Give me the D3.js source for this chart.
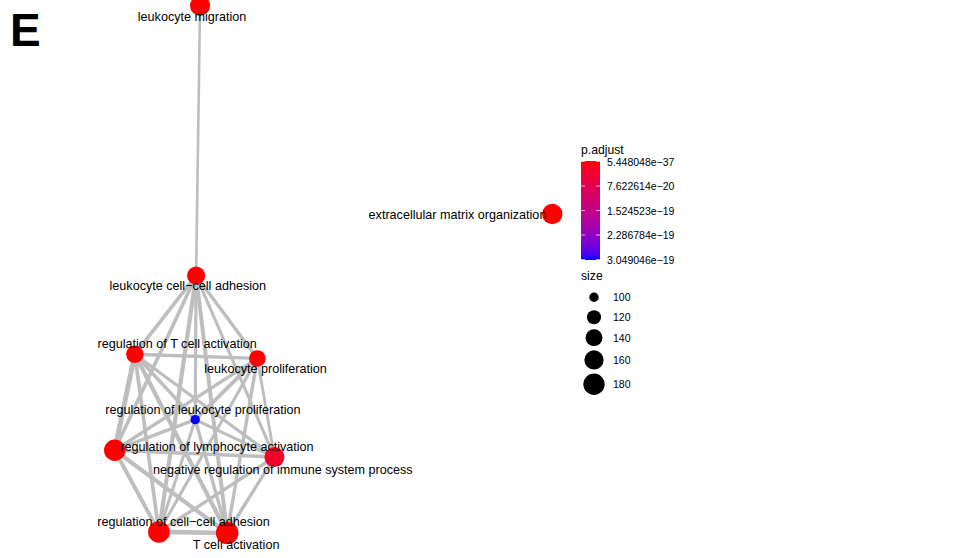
<!DOCTYPE html>
<html>
<head>
<meta charset="utf-8">
<script src="https://cdn.jsdelivr.net/npm/d3@7"></script>
<style>
  html, body { margin: 0; padding: 0; background: #fff; }
  svg { display: block; font-family: "Liberation Sans", Arial, sans-serif; }
</style>
</head>
<body>
<svg id="chart" width="965" height="558"></svg>
<script>
// ---- data ----
const terms = [
  "leukocyte migration",
  "leukocyte cell\u2212cell adhesion",
  "regulation of T cell activation",
  "leukocyte proliferation",
  "regulation of leukocyte proliferation",
  "regulation of lymphocyte activation",
  "negative regulation of immune system process",
  "regulation of cell\u2212cell adhesion",
  "T cell activation",
  "extracellular matrix organization"
];
const geneCount = [167, 150, 143, 137, 100, 181, 167, 184, 195, 171];
const pAdjust = [3.1e-33, 6.2e-35, 4.5e-30, 1.8e-31, 3.049046e-19, 2.2e-36, 3.0e-20, 9.7e-36, 5.448048e-37, 1.2e-28];
// graph layout coordinates (normalised)
const layoutX = [0.195, 0.186, 0.046, 0.326, 0.184, 0.000, 0.365, 0.101, 0.257, 1.000];
const layoutY = [0.000, 0.512, 0.661, 0.669, 0.785, 0.843, 0.856, 0.998, 1.000, 0.395];
// label offsets from repel placement
const labelDX = [-8, -8.3, 42.3, 8.2, 7.7, 102.3, 8.4, 24.7, 9, -94.8];
const labelDY = [10.8, 10.8, -10.5, 10.1, -9.9, -2.8, 12.5, -9.5, 11.5, 1.5];
// edges: [source, target, similarity]
const edges = [
  [0,1,0.30],
  [1,2,0.50],[1,3,0.45],[1,4,0.40],[1,5,0.50],[1,6,0.40],[1,7,0.60],[1,8,0.55],
  [2,3,0.45],[2,4,0.45],[2,5,0.75],[2,6,0.40],[2,7,0.50],[2,8,0.60],
  [3,4,0.55],[3,5,0.45],[3,6,0.35],[3,7,0.40],[3,8,0.45],
  [4,5,0.45],[4,6,0.40],[4,7,0.40],[4,8,0.45],
  [5,6,0.50],[5,7,0.55],[5,8,0.60],
  [6,7,0.45],[6,8,0.45],
  [7,8,0.70]
];
const colorTicks = [5.448048e-37, 7.622614e-20, 1.524523e-19, 2.286784e-19, 3.049046e-19];
const colorTickLabels = ["5.448048e\u221237", "7.622614e\u221220", "1.524523e\u221219", "2.286784e\u221219", "3.049046e\u221219"];
const sizeBreaks = [100, 120, 140, 160, 180];
const panelLetter = "E";

// ---- scales ----
const svg = d3.select("#chart");
svg.append("rect").attr("width", 965).attr("height", 558).attr("fill", "#fff");

const x = d3.scaleLinear().domain([0, 1]).range([114.7, 552.3]);
const y = d3.scaleLinear().domain([0, 1]).range([5.7, 533]);
const sizeMin = 95;
const rLin = d3.scaleLinear().domain([0, 10]).range([2.8, 11.3]);
const radius = v => rLin(Math.sqrt(Math.max(0, v - sizeMin)));
const pMin = colorTicks[0], pMax = colorTicks[colorTicks.length - 1];
const color = d3.scaleLinear().domain([pMin, pMax]).range(["red", "blue"]).interpolate(d3.interpolateLab).clamp(true);
const edgeW = d3.scaleLinear().domain([0.3, 0.75]).range([2.6, 5]);

const nodes = terms.map((t, i) => ({
  name: t, size: geneCount[i], p: pAdjust[i],
  px: x(layoutX[i]), py: y(layoutY[i]), dx: labelDX[i], dy: labelDY[i]
}));

// ---- edges ----
svg.append("g").selectAll("line").data(edges).join("line")
  .attr("x1", d => nodes[d[0]].px).attr("y1", d => nodes[d[0]].py)
  .attr("x2", d => nodes[d[1]].px).attr("y2", d => nodes[d[1]].py)
  .attr("stroke", "#bebebe")
  .attr("stroke-width", d => edgeW(d[2]));

// ---- nodes ----
svg.append("g").selectAll("circle").data(nodes).join("circle")
  .attr("cx", d => d.px).attr("cy", d => d.py)
  .attr("r", d => radius(d.size))
  .attr("fill", d => color(d.p));

// ---- labels ----
svg.append("g").selectAll("text").data(nodes).join("text")
  .attr("x", d => d.px + d.dx).attr("y", d => d.py + d.dy)
  .attr("text-anchor", "middle").attr("dominant-baseline", "central")
  .attr("font-size", 12.6).attr("fill", "#000")
  .text(d => d.name);

// ---- panel letter ----
svg.append("text").attr("x", 10).attr("y", 46)
  .attr("font-size", 46).attr("font-weight", "bold").attr("fill", "#000")
  .text(panelLetter);

// ---- colour legend ----
const lg = svg.append("g");
lg.append("text").attr("x", 581).attr("y", 150).attr("dominant-baseline", "central")
  .attr("font-size", 12.2).text("p.adjust");
const defs = svg.append("defs");
const grad = defs.append("linearGradient").attr("id", "pgrad")
  .attr("x1", 0).attr("y1", 0).attr("x2", 0).attr("y2", 1);
d3.range(0, 1.0001, 0.05).forEach(t => {
  grad.append("stop").attr("offset", t).attr("stop-color", color(pMin + t * (pMax - pMin)));
});
const barY = d3.scaleLinear().domain([pMin, pMax]).range([161.5, 259.5]);
const barX0 = 581, barW = 19;
lg.append("rect").attr("x", barX0).attr("y", 161).attr("width", barW).attr("height", 99)
  .attr("fill", "url(#pgrad)");
colorTicks.forEach((v, i) => {
  const yy = barY(v);
  lg.append("line").attr("x1", barX0).attr("x2", barX0 + 4).attr("y1", yy).attr("y2", yy)
    .attr("stroke", "#fff").attr("stroke-opacity", 0.7);
  lg.append("line").attr("x1", barX0 + barW - 4).attr("x2", barX0 + barW).attr("y1", yy).attr("y2", yy)
    .attr("stroke", "#fff").attr("stroke-opacity", 0.7);
  lg.append("text").attr("x", 607).attr("y", yy).attr("dominant-baseline", "central")
    .attr("font-size", 10.5).text(colorTickLabels[i]);
});

// ---- size legend ----
lg.append("text").attr("x", 581).attr("y", 276).attr("dominant-baseline", "central")
  .attr("font-size", 12.2).text("size");
// key heights grow with symbol size, stacked from the first key centre
const keyH = sizeBreaks.map(v => Math.max(20, 2 * radius(v) + 4));
let cy = 297.3;
sizeBreaks.forEach((v, i) => {
  if (i > 0) cy += (keyH[i - 1] + keyH[i]) / 2;
  lg.append("circle").attr("cx", 594).attr("cy", cy).attr("r", radius(v)).attr("fill", "#000");
  lg.append("text").attr("x", 613).attr("y", cy).attr("dominant-baseline", "central")
    .attr("font-size", 10.5).text(v);
});
</script>
</body>
</html>
